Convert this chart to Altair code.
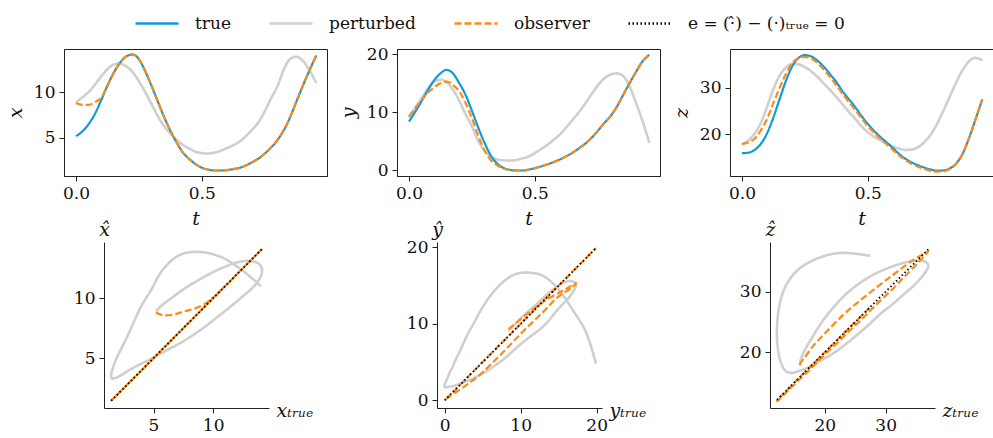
import altair as alt
import pandas as pd

# time grid
t = [0.0, 0.025, 0.05, 0.075, 0.1, 0.125, 0.15, 0.175, 0.2, 0.225,
     0.25, 0.275, 0.3, 0.325, 0.35, 0.375, 0.4, 0.425, 0.45, 0.475,
     0.5, 0.525, 0.55, 0.575, 0.6, 0.625, 0.65, 0.675, 0.7, 0.725,
     0.75, 0.775, 0.8, 0.825, 0.85, 0.875, 0.9, 0.925, 0.955]

x_true = [5.2, 5.7, 6.5, 7.6, 9.1, 10.7, 12.1, 13.2, 13.9, 14.1,
          13.6, 12.3, 10.7, 9.0, 7.3, 5.8, 4.5, 3.4, 2.7, 2.15,
          1.75, 1.55, 1.45, 1.45, 1.5, 1.6, 1.74, 2.0, 2.35, 2.75,
          3.3, 3.95, 4.75, 5.8, 7.2, 8.9, 10.6, 12.2, 14.0]
x_pert = [8.9, 9.4, 10.0, 10.8, 11.7, 12.5, 13.0, 13.1, 12.8, 12.2,
          11.2, 10.0, 8.7, 7.4, 6.3, 5.5, 4.8, 4.25, 3.85, 3.5,
          3.35, 3.3, 3.4, 3.6, 3.9, 4.2, 4.6, 5.2, 5.9, 6.7,
          7.9, 9.3, 10.6, 12.4, 13.6, 13.85, 13.45, 12.5, 11.0]
x_obs = [8.8, 8.6, 8.6, 8.9, 9.4, 10.7, 12.1, 13.2, 13.9, 14.1,
         13.6, 12.3, 10.7, 9.0, 7.3, 5.8, 4.5, 3.4, 2.7, 2.15,
         1.75, 1.55, 1.45, 1.45, 1.5, 1.6, 1.74, 2.0, 2.35, 2.75,
         3.3, 3.95, 4.75, 5.8, 7.2, 8.9, 10.6, 12.2, 14.0]

y_true = [8.4, 10.1, 11.9, 13.8, 15.5, 16.7, 17.3, 16.7, 15.0, 13.0,
          10.3, 7.4, 4.8, 2.6, 1.2, 0.45, 0.1, 0.0, 0.0, 0.15,
          0.4, 0.7, 1.05, 1.45, 1.9, 2.45, 3.05, 3.8, 4.6, 5.6,
          6.8, 8.1, 9.3, 10.9, 12.9, 14.9, 16.8, 18.6, 19.9]
y_pert = [9.1, 10.8, 12.4, 14.1, 15.3, 15.6, 15.2, 13.9, 12.0, 9.7,
          7.6, 5.1, 3.4, 2.4, 1.9, 1.75, 1.7, 1.8, 2.05, 2.4,
          3.0, 3.7, 4.4, 5.3, 6.2, 7.4, 8.7, 10.0, 11.5, 13.1,
          14.6, 15.8, 16.5, 16.7, 16.3, 14.6, 11.9, 8.9, 4.8]
y_obs = [9.3, 10.7, 12.1, 13.4, 14.3, 15.0, 15.3, 14.7, 13.6, 11.6,
         9.0, 6.0, 3.5, 1.8, 0.9, 0.35, 0.1, 0.0, 0.0, 0.15,
         0.4, 0.7, 1.05, 1.45, 1.9, 2.45, 3.05, 3.8, 4.6, 5.6,
         6.8, 8.1, 9.3, 10.9, 12.9, 14.9, 16.8, 18.6, 19.9]

z_true = [15.9, 16.0, 16.6, 17.9, 20.2, 23.6, 27.6, 31.5, 34.6, 36.4,
          37.0, 36.7, 35.8, 34.5, 32.9, 31.2, 29.2, 27.5, 25.8, 23.9,
          22.2, 20.7, 19.4, 18.2, 17.0, 15.7, 14.7, 13.9, 13.3, 12.8,
          12.4, 12.15, 12.2, 12.6, 13.6, 15.6, 18.8, 22.7, 27.5]
z_pert = [17.8, 18.6, 20.1, 22.4, 25.9, 29.7, 32.6, 34.3, 35.1, 35.0,
          34.4, 33.5, 32.3, 30.9, 29.5, 28.0, 26.4, 24.8, 23.3, 21.7,
          20.4, 19.4, 18.7, 18.0, 17.35, 16.9, 16.6, 16.7, 17.2, 18.3,
          19.9, 22.2, 25.0, 28.0, 31.0, 33.6, 35.5, 36.4, 35.9]
z_obs = [17.9, 18.2, 19.0, 20.8, 23.3, 26.7, 30.0, 33.0, 35.3, 36.3,
         36.6, 36.3, 35.3, 33.9, 32.3, 30.5, 28.6, 26.9, 25.2, 23.4,
         21.7, 20.3, 19.0, 17.8, 16.6, 15.4, 14.4, 13.6, 13.0, 12.5,
         12.1, 11.95, 12.0, 12.5, 13.55, 15.6, 18.8, 22.7, 27.5]

SERIES = ["true", "perturbed", "observer", "e = (\u00b7\u0302) \u2212 (\u00b7)\u209c\u1d63\u1d64\u2091 = 0"]
COLORS = ["#0f9bd7", "#cfcfcf", "#ff8a14", "#000000"]
DASHES = [[1, 0], [1, 0], [7, 3], [1.5, 2.5]]

T_TICKS = [0, 0.5]
X_TICKS = [5, 10]
Y_TICKS = [0, 10, 20]
Z_TICKS = [20, 30]

FONT = "DejaVu Serif"

legend = alt.Legend(
    title=None, orient="none", legendX=70, legendY=-48.5, direction="horizontal",
    symbolType="stroke", symbolSize=1849, symbolStrokeWidth=2.4,
    labelFont=FONT, labelFontSize=17, labelColor="#111", labelOffset=15,
    columnPadding=33, padding=0,
)
COLOR = alt.Color("series:N", scale=alt.Scale(domain=SERIES, range=COLORS), legend=legend)
DASH = alt.StrokeDash("series:N", scale=alt.Scale(domain=SERIES, range=DASHES), legend=legend)


def frame(a, b, name):
    return pd.DataFrame({"a": a, "b": b, "t": t, "series": name})


def top_panel(true_v, pert_v, obs_v, ydom, yticks, ylab):
    xenc = alt.X("a:Q", scale=alt.Scale(domain=[-0.0475, 0.9975], nice=False, zero=False),
                 axis=alt.Axis(values=T_TICKS, format=".1f", title="t", titleX=131.5, titleY=42,
                               titleAlign="center", titleBaseline="middle", titleAngle=0,
                               titleFontStyle="italic"))
    yenc = alt.Y("b:Q", scale=alt.Scale(domain=ydom, nice=False, zero=False),
                 axis=alt.Axis(values=yticks, format="d", title=ylab, titleX=-49, titleY=63.5,
                               titleAngle=270, titleAlign="center", titleBaseline="middle",
                               titleFontStyle="italic"))
    layers = []
    for vals, name, w in [(pert_v, SERIES[1], 2.6), (true_v, SERIES[0], 2.2), (obs_v, SERIES[2], 2.2)]:
        layers.append(
            alt.Chart(frame(t, vals, name))
            .mark_line(strokeWidth=w, interpolate="monotone")
            .encode(x=xenc, y=yenc, color=COLOR, strokeDash=DASH)
        )
    return alt.layer(*layers).properties(
        width=263, height=127, view=alt.ViewBackground(stroke="#222", strokeWidth=1)
    )


def bottom_panel(true_v, pert_v, obs_v, xdom, ydom, ticks, xlab, ylab):
    xenc = alt.X("a:Q", scale=alt.Scale(domain=xdom, nice=False, zero=False, range=[40, 205]),
                 axis=alt.Axis(values=ticks, format="d", title=xlab, titleX=212, titleY=2,
                               titleAlign="left", titleBaseline="middle", titleAngle=0,
                               titleFontStyle="italic"))
    yenc = alt.Y("b:Q", scale=alt.Scale(domain=ydom, nice=False, zero=False),
                 axis=alt.Axis(values=ticks, format="d", title=ylab, offset=-40, titleX=0, titleY=-3,
                               titleAngle=0, titleAlign="center", titleBaseline="bottom",
                               titleFontStyle="italic"))
    pert = (alt.Chart(frame(true_v, pert_v, SERIES[1]))
            .mark_line(strokeWidth=2.6, interpolate="catmull-rom")
            .encode(x=xenc, y=yenc, color=COLOR, strokeDash=DASH, order="t:Q"))
    obs = (alt.Chart(frame(true_v, obs_v, SERIES[2]))
           .mark_line(strokeWidth=2.2, interpolate="catmull-rom")
           .encode(x=xenc, y=yenc, color=COLOR, strokeDash=DASH, order="t:Q"))
    ident = (alt.Chart(frame(true_v, true_v, SERIES[3]))
             .mark_line(strokeWidth=1.8)
             .encode(x=xenc, y=yenc, color=COLOR, strokeDash=DASH, order="a:Q"))
    return alt.layer(pert, obs, ident).properties(
        width=263, height=166, view=alt.ViewBackground(stroke="transparent")
    )


SUB = "\u209c\u1d63\u1d64\u2091"
panels = [
    top_panel(x_true, x_pert, x_obs, [0.85, 14.7], X_TICKS, "x"),
    top_panel(y_true, y_pert, y_obs, [-0.95, 20.9], Y_TICKS, "y"),
    top_panel(z_true, z_pert, z_obs, [11.0, 38.3], Z_TICKS, "z"),
    bottom_panel(x_true, x_pert, x_obs, [0.85, 14.68], [0.85, 14.68], X_TICKS, "x" + SUB, "x\u0302"),
    bottom_panel(y_true, y_pert, y_obs, [-1.0, 20.7], [-1.0, 20.7], Y_TICKS, "y" + SUB, "\u0177"),
    bottom_panel(z_true, z_pert, z_obs, [11.0, 38.1], [10.8, 38.2], Z_TICKS, "z" + SUB, "\u1e91"),
]

chart = alt.concat(
    *panels, columns=3, bounds="flush",
    spacing=alt.RowColnumber(row=66, column=70),
).properties(
    autosize=alt.AutoSizeParams(type="none"),
    padding={"left": 64, "top": 49, "right": 929, "bottom": 389},
).configure_axis(
    domainColor="#222", tickColor="#222", tickSize=5, grid=False,
    labelFont=FONT, labelFontSize=17, labelColor="#111", labelPadding=4, labelFlush=False,
    titleFont=FONT, titleFontSize=19, titleFontWeight="normal", titleColor="#111",
).configure_view(stroke="#222")

chart.save("out.html", embed_options={"renderer": "svg", "actions": False})
